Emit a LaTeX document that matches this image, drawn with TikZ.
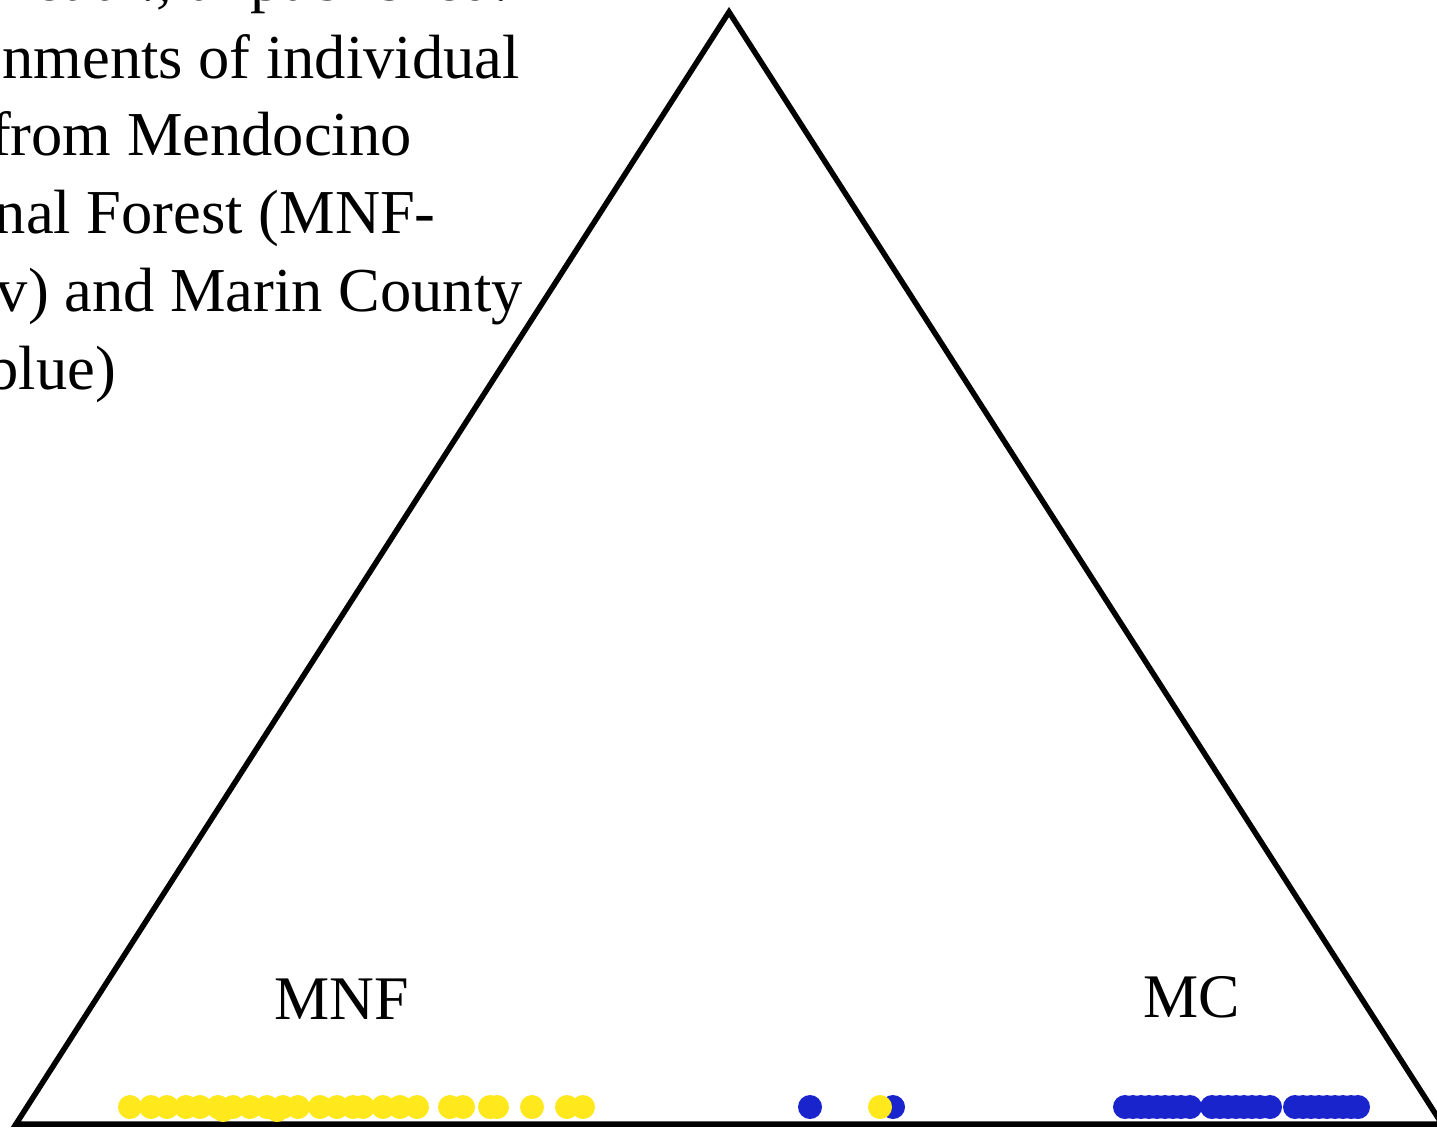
\documentclass[tikz,border=0pt]{standalone}
\usepackage{fontspec}
\setmainfont{Liberation Serif}
\definecolor{mnfyellow}{RGB}{255,232,28}
\definecolor{mcblue}{RGB}{26,36,204}
\begin{document}
\begin{tikzpicture}[x=1pt,y=-1pt,
  capline/.style={anchor=base east, inner sep=0pt, font=\fontsize{62.5}{62.5}\selectfont},
  vertexlabel/.style={anchor=base, inner sep=0pt, font=\fontsize{62}{62}\selectfont},
  edge/.style={line width=5.5pt, line join=miter, draw=black},
  ydot/.style={fill=mnfyellow},
  bdot/.style={fill=mcblue}]
\useasboundingbox (0,0) rectangle (1437,1127);

% caption block, running off the left edge
\node[capline] (c1) at (509,1)   {et al., unpublished.};
\node[capline] (c2) at (520,78)  {nments of individual};
\node[capline] (c3) at (412,155) {from Mendocino};
\node[capline] (c4) at (436,233) {nal Forest (MNF-};
\node[capline] (c5) at (523,311) {v) and Marin County};
\node[capline] (c6) at (116,389) {blue)};

% ternary triangle
\coordinate (top) at (729,12);
\coordinate (left) at (16,1124);
\coordinate (right) at (1442,1124);
\draw[edge] (top) -- (left) -- (right) -- cycle;

% vertex labels
\node[vertexlabel] (mnf) at (342,1019) {MNF};
\node[vertexlabel] (mc) at (1192,1017) {MC};

% individual assignments: blue (MC) first, yellow (MNF) on top
\foreach \x in {810,893,
  1125,1133,1141,1149,1157,1165,1173,1181,1190,
  1212,1220,1228,1236,1244,1252,1260,1270,
  1295,1303,1311,1319,1327,1335,1343,1351,1358}
  \fill[bdot] (\x,1107) circle[radius=12pt];
\foreach \x in {130,151,167,186,200,218,233,250,267,283,298,
  320,337,353,363,383,400,417,450,463,490,497,532,567,583,880}
  \fill[ydot] (\x,1107) circle[radius=12pt];
\foreach \x in {223,277}
  \fill[ydot] (\x,1110) circle[radius=12pt];
\end{tikzpicture}
\end{document}
